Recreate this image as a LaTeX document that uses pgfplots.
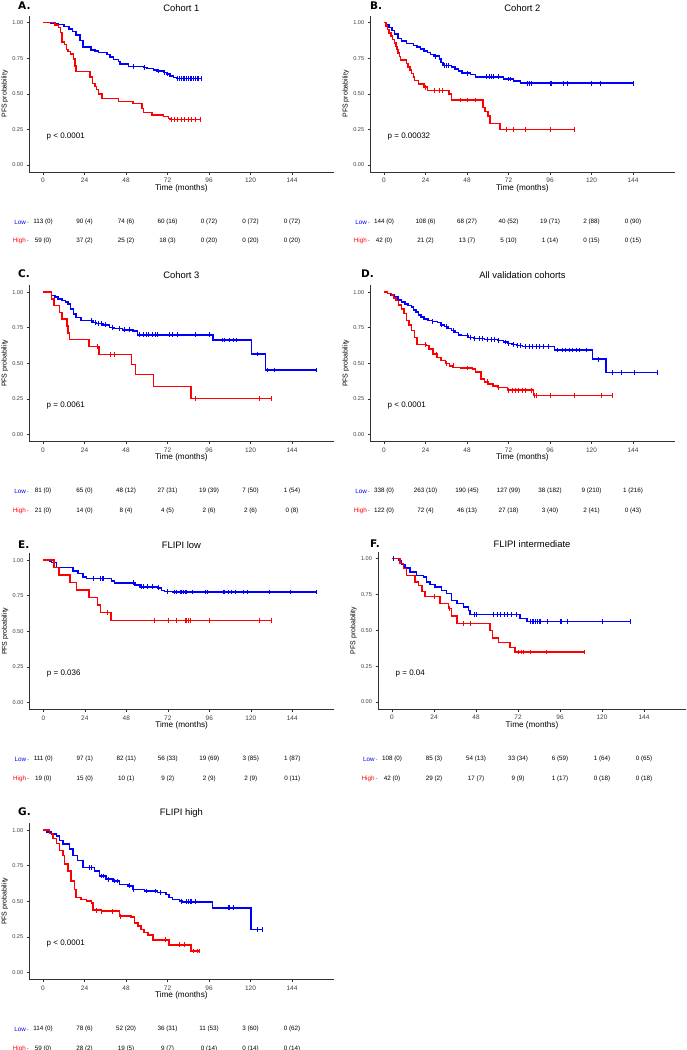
\documentclass[border=0pt]{standalone}
\usepackage{fontspec}
\setmainfont{Liberation Sans}
\newfontfamily\letterfont{DejaVu Sans}
\usepackage{pgfplots}
\pgfplotsset{compat=1.18}
\definecolor{kmblue}{RGB}{0,0,255}
\definecolor{kmred}{RGB}{255,0,0}

\pgfplotsset{
  km/.style={scale only axis, width=304.3pt, height=156.5pt,
    xmin=-8, xmax=168, ymin=-0.05, ymax=1.05,
    axis lines=left, axis line style={-,black!80,line width=0.6pt},
    xtick={0,24,48,72,96,120,144}, ytick={0,0.25,0.5,0.75,1},
    yticklabels={0.00,0.25,0.50,0.75,1.00},
    tick align=outside, major tick length=2.5pt, tick style={black!80,line width=0.5pt},
    xticklabel style={font=\fontsize{6.5}{7}\selectfont,text=black!75},
    yticklabel style={font=\fontsize{5.6}{6}\selectfont,text=black!75},
    /pgf/number format/assume math mode=true, clip=false},
  lowc/.style={draw=kmblue,line width=1.5pt,const plot,mark=none,line join=miter},
  highc/.style={draw=kmred,line width=1.5pt,const plot,mark=none,line join=miter},
  lowm/.style={kmblue,only marks,mark=|,mark size=2.4pt,mark options={draw=kmblue,line width=0.8pt}},
  highm/.style={kmred,only marks,mark=|,mark size=2.4pt,mark options={draw=kmred,line width=0.8pt}},
}
\tikzset{
  risk/.style={font=\fontsize{6.3}{7}\selectfont,inner sep=0pt},
  pv/.style={font=\fontsize{8}{9}\selectfont,anchor=west,inner sep=0pt},
  xl/.style={font=\fontsize{8.2}{9}\selectfont,inner sep=0pt},
  yl/.style={font=\fontsize{7}{8}\selectfont,inner sep=0pt},
  ttl/.style={font=\fontsize{9.4}{10}\selectfont,inner sep=0pt},
  lett/.style={font=\letterfont\bfseries\fontsize{10.5}{11}\selectfont,inner sep=0pt,anchor=west},
}
\newcommand\riskrow[8]{\node[risk] at (axis cs:0,#1){#2};\node[risk] at (axis cs:24,#1){#3};\node[risk] at (axis cs:48,#1){#4};\node[risk] at (axis cs:72,#1){#5};\node[risk] at (axis cs:96,#1){#6};\node[risk] at (axis cs:120,#1){#7};\node[risk] at (axis cs:144,#1){#8};}
\newcommand\panelbits[1]{%
  \node[xl,yshift=-16pt] at (rel axis cs:0.5,0) {Time (months)};
  \node[xshift=-24.5pt,yl,rotate=90] at (rel axis cs:0,0.5) {PFS probability};
  \node[pv] at (axis cs:2,0.2) {#1};
  \node[risk,anchor=east] at (axis cs:-8,-0.40) {\textcolor{kmblue}{Low}\textcolor{black!60}{\,-}};
  \node[risk,anchor=east] at (axis cs:-8,-0.535) {\textcolor{kmred}{High}\textcolor{black!60}{\,-}};
}

\begin{document}
\begin{tikzpicture}
\useasboundingbox (0pt,0pt) rectangle (686pt,-1050pt);

% ---------------- A ----------------
\begin{axis}[km, at={(29.2pt,-15.6pt)}, anchor=north west]
\addplot[lowc] coordinates {(0,1) (4.2,0.993) (9,0.986) (12,0.972) (15,0.956) (17,0.937) (19,0.913) (21.5,0.876) (23,0.831) (27.7,0.808) (30.2,0.80) (32.1,0.789) (36.9,0.778) (38.8,0.76) (40.8,0.742) (43.7,0.726) (44.6,0.71) (49.4,0.691) (58.1,0.684) (60,0.677) (63.8,0.668) (65.8,0.66) (69.6,0.65) (71.5,0.639) (73.5,0.625) (75.4,0.614) (77.3,0.607) (91.7,0.607)};
\addplot[lowm] coordinates {(52.3,0.691) (58.5,0.684) (66.5,0.66) (70,0.65) (72,0.639) (78,0.607) (79,0.607) (80,0.607) (81,0.607) (82,0.607) (83,0.607) (84,0.607) (85,0.607) (86,0.607) (87,0.607) (88,0.607) (89,0.607) (90,0.607) (91.7,0.607)};
\addplot[highc] coordinates {(0,1) (7,0.983) (9,0.966) (10,0.932) (11,0.864) (12.5,0.847) (13.5,0.813) (14.5,0.796) (16,0.78) (17.7,0.746) (18.5,0.695) (19.2,0.656) (27.3,0.62) (28.5,0.574) (30,0.55) (31,0.532) (32,0.50) (34,0.468) (43.7,0.445) (51.9,0.433) (57.1,0.398) (58.1,0.368) (62.9,0.351) (69.6,0.34) (72.5,0.328) (73.5,0.321) (90.8,0.321)};
\addplot[highm] coordinates {(74.5,0.321) (76,0.321) (78,0.321) (80,0.321) (82,0.321) (84,0.321) (86,0.321) (88,0.321) (90.8,0.321)};
\panelbits{p < 0.0001}
\riskrow{-0.40}{113 (0)}{90 (4)}{74 (6)}{60 (16)}{0 (72)}{0 (72)}{0 (72)}
\riskrow{-0.535}{59 (0)}{37 (2)}{25 (2)}{18 (3)}{0 (20)}{0 (20)}{0 (20)}
\end{axis}

% ---------------- B ----------------
\begin{axis}[km, at={(370.2pt,-15.6pt)}, anchor=north west]
\addplot[lowc] coordinates {(0,1) (1.5,0.984) (3,0.965) (4.5,0.945) (6,0.92) (8,0.89) (10,0.87) (13,0.855) (17,0.84) (19,0.83) (21,0.815) (23,0.80) (25,0.79) (27,0.775) (29,0.765) (32,0.745) (33,0.72) (34,0.70) (39,0.69) (41,0.675) (43,0.66) (45,0.645) (50,0.635) (53,0.62) (69,0.605) (75,0.59) (79,0.575) (144,0.575)};
\addplot[lowm] coordinates {(29.5,0.765) (35,0.70) (36,0.70) (37,0.70) (48,0.645) (48.5,0.645) (59,0.62) (61,0.62) (62,0.62) (63,0.62) (66,0.62) (72,0.605) (73,0.605) (83,0.575) (84,0.575) (85,0.575) (96,0.575) (97,0.575) (104,0.575) (106,0.575) (120,0.575) (125,0.575) (144,0.575)};
\addplot[highc] coordinates {(0,1) (1,0.976) (2,0.952) (3,0.929) (4,0.905) (5,0.881) (6,0.857) (7,0.833) (7.5,0.81) (8,0.786) (9,0.762) (9.5,0.738) (13,0.714) (14,0.69) (15,0.667) (16,0.643) (17,0.619) (17.5,0.595) (20,0.571) (23,0.547) (25,0.524) (37.5,0.50) (39,0.457) (57.3,0.405) (58.5,0.375) (60,0.345) (61.2,0.293) (67,0.25) (110,0.25)};
\addplot[highm] coordinates {(24,0.547) (29,0.524) (32,0.524) (34,0.524) (44,0.457) (48,0.457) (53,0.457) (71,0.25) (75,0.25) (82,0.25) (96,0.25) (110,0.25)};
\panelbits{p = 0.00032}
\riskrow{-0.40}{144 (0)}{108 (6)}{68 (27)}{40 (52)}{19 (71)}{2 (88)}{0 (90)}
\riskrow{-0.535}{42 (0)}{21 (2)}{13 (7)}{5 (10)}{1 (14)}{0 (15)}{0 (15)}
\end{axis}

% ---------------- C ----------------
\begin{axis}[km, at={(29.2pt,-285pt)}, anchor=north west]
\addplot[lowc] coordinates {(0,1) (4.8,0.976) (7,0.965) (8.6,0.953) (11,0.94) (13,0.93) (14.4,0.918) (16,0.88) (17.7,0.847) (19,0.82) (22,0.80) (28.8,0.788) (31,0.78) (34.6,0.77) (38.4,0.752) (41,0.745) (46,0.735) (52,0.725) (54.7,0.70) (98.3,0.663) (120.6,0.565) (128.7,0.452) (158,0.452)};
\addplot[lowm] coordinates {(28,0.80) (30,0.788) (32,0.78) (34,0.78) (36,0.77) (40,0.752) (44,0.745) (47,0.735) (50,0.735) (56,0.70) (58,0.70) (60,0.70) (61,0.70) (63,0.70) (65,0.70) (66,0.70) (73,0.70) (75,0.70) (78,0.70) (88,0.70) (96,0.70) (104,0.663) (105,0.663) (108,0.663) (110,0.663) (112,0.663) (124,0.565) (130,0.452) (134,0.452) (158,0.452)};
\addplot[highc] coordinates {(0,1) (4.8,0.952) (6.3,0.905) (9.6,0.857) (11,0.81) (14,0.762) (14.4,0.714) (15.4,0.667) (26.5,0.619) (32.5,0.56) (51.3,0.49) (53.5,0.42) (64,0.336) (85.5,0.252) (132,0.252)};
\addplot[highm] coordinates {(31.5,0.619) (39,0.56) (41,0.56) (88,0.252) (125.3,0.252) (132,0.252)};
\panelbits{p = 0.0061}
\riskrow{-0.40}{81 (0)}{65 (0)}{48 (12)}{27 (31)}{19 (39)}{7 (50)}{1 (54)}
\riskrow{-0.535}{21 (0)}{14 (0)}{8 (4)}{4 (5)}{2 (6)}{2 (6)}{0 (8)}
\end{axis}

% ---------------- D ----------------
\begin{axis}[km, at={(370.2pt,-285pt)}, anchor=north west]
\addplot[lowc] coordinates {(0,1) (2,0.99) (4,0.98) (6,0.965) (8,0.945) (10,0.93) (12,0.918) (14,0.905) (15.8,0.894) (17,0.875) (18.5,0.86) (20,0.84) (21.5,0.824) (23,0.81) (25.4,0.80) (28,0.795) (31,0.785) (33,0.77) (35,0.758) (37,0.745) (39,0.73) (41,0.715) (43,0.70) (44.6,0.694) (48.5,0.682) (52,0.675) (58,0.666) (65.8,0.659) (69,0.65) (71.5,0.64) (74,0.632) (77,0.624) (80,0.618) (98.5,0.593) (120.6,0.529) (128.5,0.435) (158,0.435)};
\addplot[lowm] coordinates {(28,0.795) (33,0.77) (36,0.758) (40,0.73) (48,0.694) (50,0.682) (52,0.675) (55,0.675) (57,0.675) (60,0.666) (62,0.666) (64,0.666) (66,0.659) (70,0.65) (72,0.64) (75,0.632) (77,0.624) (79,0.624) (82,0.618) (84,0.618) (86,0.618) (88,0.618) (90,0.618) (92,0.618) (95,0.618) (100,0.593) (103,0.593) (105,0.593) (107,0.593) (109,0.593) (111,0.593) (113,0.593) (117,0.593) (124,0.529) (132,0.435) (137,0.435) (145,0.435) (158,0.435)};
\addplot[highc] coordinates {(0,1) (2,0.99) (4.2,0.98) (5.5,0.96) (7,0.941) (8.5,0.91) (10,0.882) (11.5,0.85) (12.9,0.8) (14.4,0.77) (15.8,0.729) (17.5,0.68) (19.2,0.631) (24.4,0.624) (26,0.60) (28.3,0.565) (30.5,0.54) (33,0.518) (35.5,0.50) (37.9,0.482) (40,0.47) (44.6,0.466) (51.3,0.459) (53,0.44) (56,0.388) (58,0.37) (60,0.353) (63,0.34) (65.8,0.329) (71.5,0.311) (86.5,0.275) (132,0.275)};
\addplot[highm] coordinates {(24,0.631) (30,0.565) (36,0.50) (40,0.482) (48,0.466) (60,0.37) (66,0.329) (72,0.311) (74,0.311) (76,0.311) (78,0.311) (80,0.311) (82,0.311) (85,0.311) (87,0.275) (88,0.275) (96,0.275) (110,0.275) (126,0.275) (132,0.275)};
\panelbits{p < 0.0001}
\riskrow{-0.40}{338 (0)}{263 (10)}{190 (45)}{127 (99)}{38 (182)}{9 (210)}{1 (216)}
\riskrow{-0.535}{122 (0)}{72 (4)}{46 (13)}{27 (18)}{3 (40)}{2 (41)}{0 (43)}
\end{axis}

% ---------------- E ----------------
\begin{axis}[km, at={(29.5pt,-553pt)}, anchor=north west]
\addplot[lowc] coordinates {(0,1) (3.8,0.993) (4.8,0.983) (7.7,0.948) (17.3,0.925) (20,0.906) (23,0.882) (25,0.871) (39.4,0.852) (41.3,0.84) (52.9,0.824) (55.8,0.812) (66,0.805) (68.3,0.788) (70,0.781) (75,0.776) (158,0.776)};
\addplot[lowm] coordinates {(29,0.871) (33,0.871) (34,0.871) (35,0.871) (52,0.84) (57,0.812) (58,0.812) (60,0.812) (63,0.812) (66.5,0.805) (72,0.781) (76,0.776) (77,0.776) (79,0.776) (80,0.776) (81,0.776) (82,0.776) (83,0.776) (86,0.776) (94,0.776) (95,0.776) (104,0.776) (105,0.776) (107,0.776) (109,0.776) (111,0.776) (116,0.776) (118,0.776) (131,0.776) (143,0.776) (158,0.776)};
\addplot[highc] coordinates {(0,1) (6.3,0.947) (9,0.895) (15.4,0.842) (19.2,0.789) (26.3,0.737) (31.3,0.684) (33.2,0.631) (39,0.576) (132,0.576)};
\addplot[highm] coordinates {(37,0.631) (64,0.576) (72.5,0.576) (77,0.576) (82,0.576) (83,0.576) (84,0.576) (85,0.576) (96,0.576) (125,0.576) (132,0.576)};
\panelbits{p = 0.036}
\riskrow{-0.40}{111 (0)}{97 (1)}{82 (11)}{56 (33)}{19 (69)}{3 (85)}{1 (87)}
\riskrow{-0.535}{19 (0)}{15 (0)}{10 (1)}{9 (2)}{2 (9)}{2 (9)}{0 (11)}
\end{axis}

% ---------------- F ----------------
\begin{axis}[km, width=308pt, height=157.6pt, at={(378pt,-551.5pt)}, anchor=north west]
\addplot[lowc] coordinates {(0,1) (3.6,0.988) (5.5,0.958) (7.4,0.935) (10.3,0.907) (14,0.884) (17.9,0.872) (19.8,0.837) (21.7,0.819) (24.6,0.802) (28.4,0.779) (31.2,0.756) (34,0.709) (37,0.686) (40.8,0.663) (43.6,0.640) (44.6,0.609) (73,0.581) (77,0.563) (136,0.563)};
\addplot[lowm] coordinates {(1,1) (47,0.609) (48,0.609) (58,0.609) (60,0.609) (62,0.609) (64,0.609) (66,0.609) (68,0.609) (71,0.609) (79,0.563) (80,0.563) (81,0.563) (82,0.563) (83,0.563) (84,0.563) (85,0.563) (89,0.563) (96,0.563) (97,0.563) (100,0.563) (120,0.563) (136,0.563)};
\addplot[highc] coordinates {(0,1) (4.6,0.965) (6.5,0.93) (8.4,0.884) (13,0.837) (15,0.814) (17,0.772) (18.9,0.737) (27.4,0.686) (32.2,0.651) (34,0.60) (37,0.547) (56,0.50) (57.5,0.447) (60.8,0.414) (67.4,0.38) (70.3,0.349) (110,0.349)};
\addplot[highm] coordinates {(24.5,0.737) (33,0.651) (41,0.547) (45,0.547) (72,0.349) (74,0.349) (75,0.349) (79,0.349) (88,0.349) (110,0.349)};
\panelbits{p = 0.04}
\riskrow{-0.40}{108 (0)}{85 (3)}{54 (13)}{33 (34)}{6 (59)}{1 (64)}{0 (65)}
\riskrow{-0.535}{42 (0)}{29 (2)}{17 (7)}{9 (9)}{1 (17)}{0 (18)}{0 (18)}
\end{axis}

% ---------------- G ----------------
\begin{axis}[km, at={(29.2pt,-823pt)}, anchor=north west]
\addplot[lowc] coordinates {(0,1) (1.9,0.986) (4.8,0.974) (7.7,0.957) (9.6,0.927) (11.5,0.903) (15.4,0.868) (17.3,0.82) (20,0.785) (23,0.738) (29.8,0.714) (32.7,0.678) (36.5,0.655) (40.4,0.643) (44.2,0.619) (49,0.608) (52,0.584) (58.6,0.572) (66.3,0.56) (71,0.548) (73,0.525) (75,0.513) (78.8,0.501) (80.8,0.496) (98,0.454) (120.3,0.30) (127,0.30)};
\addplot[lowm] coordinates {(27,0.738) (28,0.738) (34,0.678) (35,0.678) (38,0.655) (41,0.643) (43,0.643) (50,0.608) (52.5,0.584) (60,0.572) (65,0.572) (68,0.56) (80,0.501) (83,0.496) (84,0.496) (85,0.496) (86,0.496) (88,0.496) (107,0.454) (108,0.454) (110,0.454) (124,0.30) (127,0.30)};
\addplot[highc] coordinates {(0,1) (3.8,0.976) (5.8,0.941) (7.7,0.905) (9.6,0.858) (11.5,0.82) (12.5,0.761) (14.4,0.714) (16.3,0.643) (18.3,0.584) (19.2,0.525) (22,0.513) (25,0.501) (27.9,0.489) (28.8,0.437) (33.7,0.43) (44.2,0.395) (51,0.39) (52.9,0.348) (55,0.325) (56.7,0.30) (58.5,0.28) (60.6,0.264) (63.5,0.229) (73,0.194) (85.6,0.151) (90.4,0.151)};
\addplot[highm] coordinates {(31,0.437) (34,0.43) (40,0.43) (45,0.395) (71,0.229) (79,0.194) (82,0.194) (87,0.151) (89,0.151) (90.4,0.151)};
\panelbits{p < 0.0001}
\riskrow{-0.40}{114 (0)}{78 (6)}{52 (20)}{36 (31)}{11 (53)}{3 (60)}{0 (62)}
\riskrow{-0.535}{59 (0)}{28 (2)}{19 (5)}{9 (7)}{0 (14)}{0 (14)}{0 (14)}
\end{axis}

% titles and panel letters
\node[ttl] at (181.4pt,-8.5pt) {Cohort 1};
\node[ttl] at (522.4pt,-8.5pt) {Cohort 2};
\node[ttl] at (181.4pt,-275pt) {Cohort 3};
\node[ttl] at (522.4pt,-275pt) {All validation cohorts};
\node[ttl] at (181.4pt,-545pt) {FLIPI low};
\node[ttl] at (532pt,-544pt) {FLIPI intermediate};
\node[ttl] at (181.4pt,-813pt) {FLIPI high};
\node[lett] at (18pt,-6pt) {A.};
\node[lett] at (370pt,-6pt) {B.};
\node[lett] at (18pt,-274pt) {C.};
\node[lett] at (361pt,-274pt) {D.};
\node[lett] at (18pt,-545pt) {E.};
\node[lett] at (370pt,-544pt) {F.};
\node[lett] at (18pt,-812pt) {G.};
\end{tikzpicture}
\end{document}
